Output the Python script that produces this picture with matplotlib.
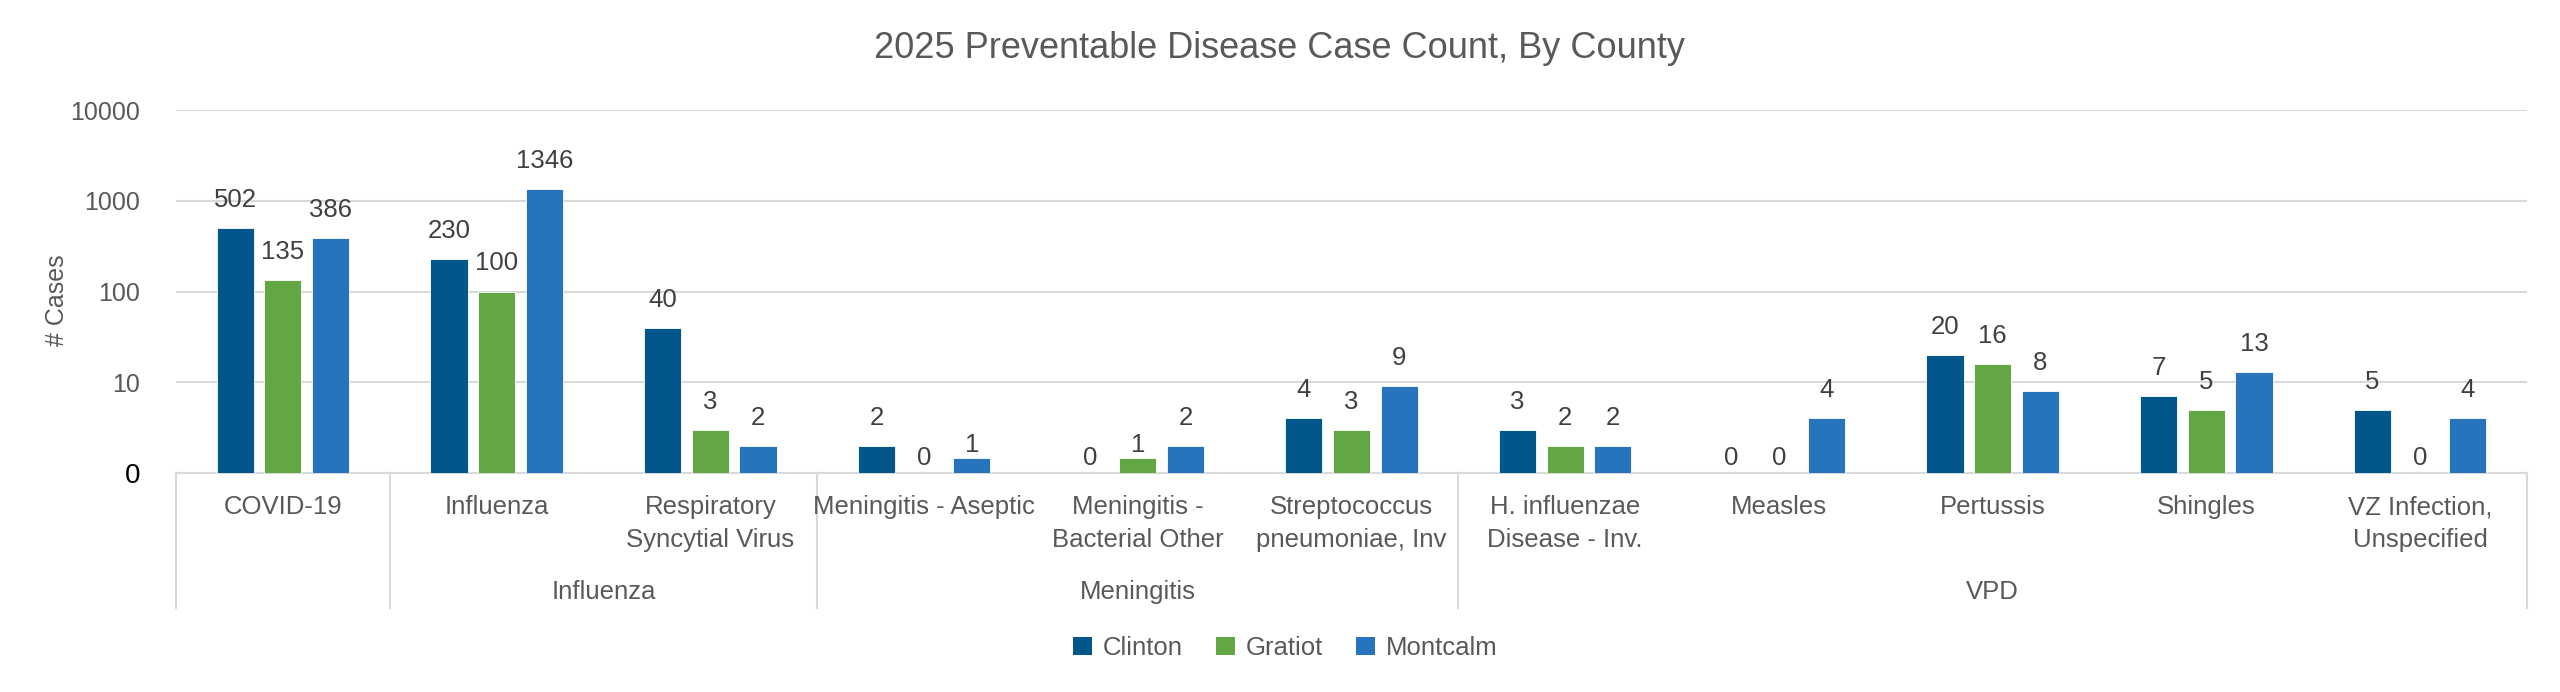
import numpy as np
import matplotlib
matplotlib.use("Agg")
import matplotlib.pyplot as plt
from matplotlib.lines import Line2D
from matplotlib.patches import Patch

# %%
categories = [
    "COVID-19",
    "Influenza",
    "Respiratory\nSyncytial Virus",
    "Meningitis - Aseptic",
    "Meningitis -\nBacterial Other",
    "Streptococcus\npneumoniae, Inv",
    "H. influenzae\nDisease - Inv.",
    "Measles",
    "Pertussis",
    "Shingles",
    "VZ Infection,\nUnspecified",
]
groups = ["", "Influenza", "Meningitis", "VPD"]
group_sizes = [1, 2, 3, 5]

clinton = [502, 230, 40, 2, 0, 4, 3, 0, 20, 7, 5]
gratiot = [135, 100, 3, 0, 1, 3, 2, 0, 16, 5, 0]
montcalm = [386, 1346, 2, 1, 2, 9, 2, 4, 8, 13, 4]

series = {"Clinton": clinton, "Gratiot": gratiot, "Montcalm": montcalm}
colors = {"Clinton": "#035689", "Gratiot": "#62A744", "Montcalm": "#2574BC"}

ytick_vals = [1, 10, 100, 1000, 10000]
ytick_labels = ["0", "10", "100", "1000", "10000"]

# %%
plt.rcParams["font.family"] = ["Liberation Sans", "DejaVu Sans"]
narrow = ["Liberation Sans Narrow", "Liberation Sans", "DejaVu Sans"]
grey = "#595959"

W, H = 2560, 692
fig = plt.figure(figsize=(W / 100, H / 100), dpi=100)
left, right, top, bottom = 176, 2527, 110, 473
ax = fig.add_axes([left / W, 1 - bottom / H, (right - left) / W, (bottom - top) / H])

x = np.arange(len(categories))
bar_w = 0.174
pitch = 0.223
min_vis = 1.45  # Excel draws a sliver for 1 on a log axis

for i, (name, vals) in enumerate(series.items()):
    vals = np.array(vals, dtype=float)
    xs = x + (i - 1) * pitch
    heights = np.where(vals > 0, np.maximum(vals, min_vis), np.nan)
    ax.bar(xs, heights, width=bar_w, color=colors[name], bottom=0,
           edgecolor="white", linewidth=0.6, zorder=3)
    for xi, v in zip(xs, vals):
        if v > 0:
            ax.annotate(f"{int(v)}", (xi, v), xytext=(0, 28), textcoords="offset pixels",
                        ha="center", va="center", fontsize=18.5, color="#404040")
        else:
            ax.annotate("0", (xi, 1), xytext=(0, 15), textcoords="offset pixels",
                        ha="center", va="center", fontsize=18.5, color="#404040")

ax.set_yscale("log")
ax.set_ylim(1, 10000)
ax.set_xlim(-0.5, len(categories) - 0.5)
ax.set_yticks(ytick_vals)
ax.set_yticklabels(ytick_labels)
ax.yaxis.set_minor_locator(matplotlib.ticker.NullLocator())
ax.tick_params(axis="y", length=0, pad=26, labelsize=18, labelcolor=grey)
ytl = ax.get_yticklabels()
ytl[0].set_color("black")
ytl[0].set_fontsize(20)
ax.set_xticks([])
ax.grid(axis="y", color="#D9D9D9", linewidth=1.5, zorder=0)
for s in ["top", "right", "left"]:
    ax.spines[s].set_visible(False)
ax.spines["bottom"].set_color("#D9D9D9")
ax.spines["bottom"].set_linewidth(1.5)

# category labels
trans = ax.get_xaxis_transform()
for xi, lab in zip(x, categories):
    for j, line in enumerate(lab.split("\n")):
        ax.annotate(line, (xi, 0), xycoords=trans, xytext=(0, -34 - 33 * j),
                    textcoords="offset pixels", ha="center", va="center",
                    fontsize=18.5, color=grey, family=narrow)

# group labels and separators
edges = np.concatenate([[0], np.cumsum(group_sizes)]) - 0.5
sep_len = 135 / (bottom - top)
for e in edges:
    ax.add_line(Line2D([e, e], [0, -sep_len], transform=trans, color="#D9D9D9",
                       linewidth=1.5, clip_on=False))
for g, a, b in zip(groups, edges[:-1], edges[1:]):
    if g:
        ax.annotate(g, ((a + b) / 2, 0), xycoords=trans, xytext=(0, -119),
                    textcoords="offset pixels", ha="center", va="center",
                    fontsize=18.5, color=grey, family=narrow)

fig.text(57 / W, 1 - 300 / H, "# Cases", rotation=90, ha="center", va="center",
         fontsize=18, color=grey)
fig.text(0.5, 1 - 49 / H, "2025 Preventable Disease Case Count, By County",
         ha="center", va="center", fontsize=26, color=grey)

handles = [Patch(facecolor=colors[n], label=n) for n in series]
fig.legend(handles=handles, loc="center", bbox_to_anchor=(1285 / W, 1 - 648 / H),
           ncol=3, frameon=False, fontsize=18.5, handlelength=0.75, handleheight=0.75,
           handletextpad=0.4, columnspacing=1.3, labelcolor=grey)

fig.savefig("out.png", dpi=100)
